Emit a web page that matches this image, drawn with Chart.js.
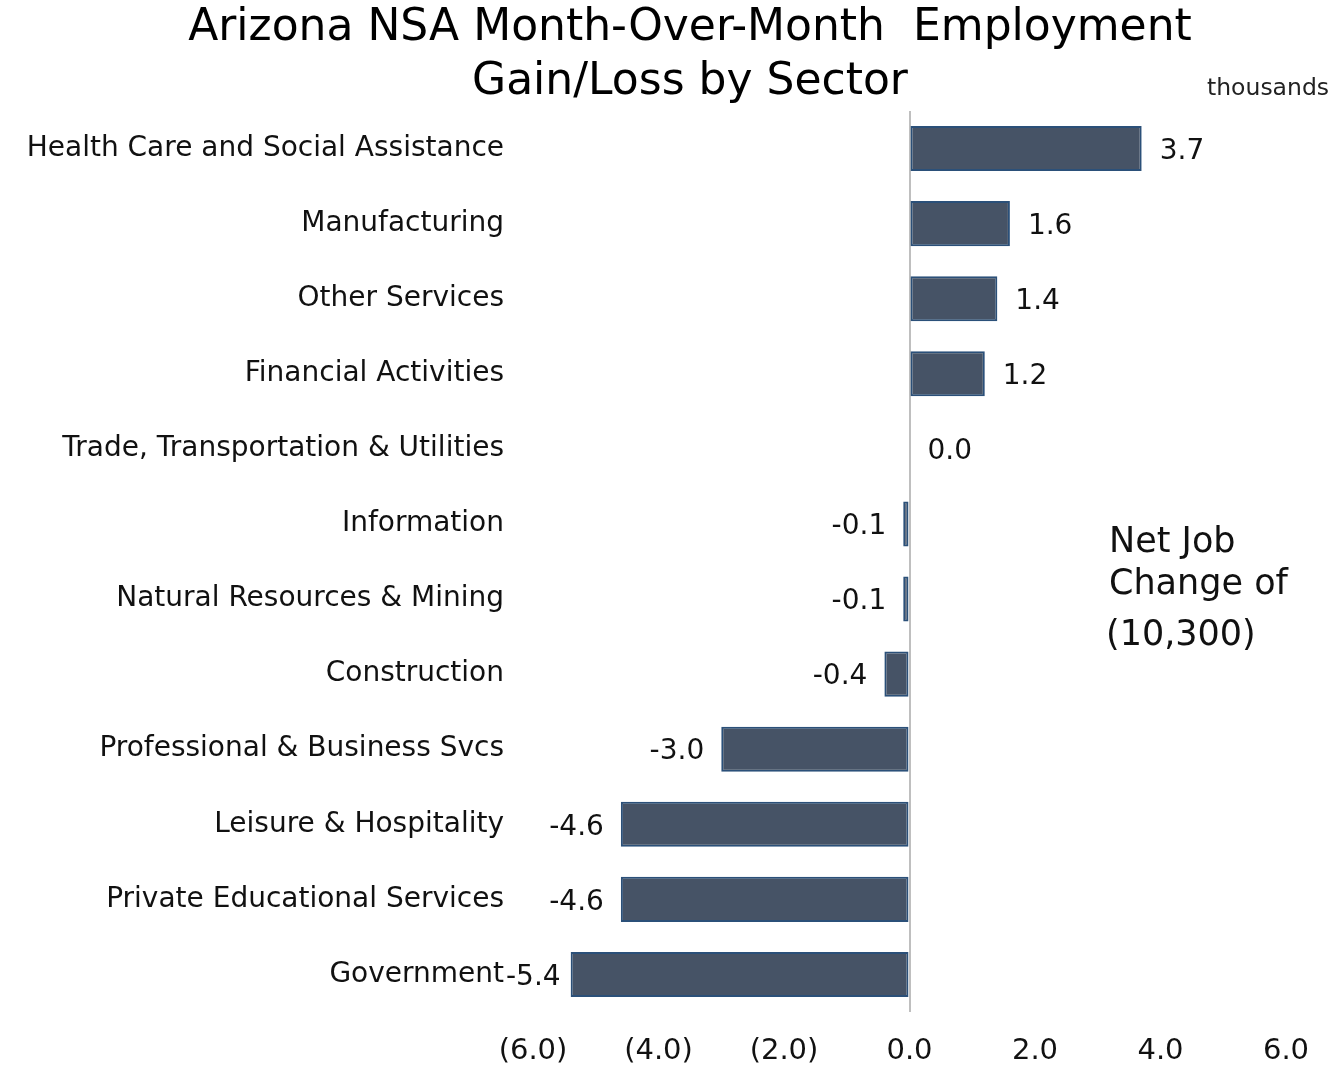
<!DOCTYPE html>
<html><head><meta charset="utf-8">
<script src="https://cdn.jsdelivr.net/npm/chart.js@4/dist/chart.umd.min.js"></script>
<style>html,body{margin:0;padding:0;background:#fff}#wrap{width:1336px;height:1067px;position:relative}</style>
</head><body><div id="wrap"><canvas id="c" width="1336" height="1067"></canvas></div>
<script>
const categories = ["Health Care and Social Assistance","Manufacturing","Other Services","Financial Activities","Trade, Transportation & Utilities","Information","Natural Resources & Mining","Construction","Professional & Business Svcs","Leisure & Hospitality","Private Educational Services","Government"];
const values = [3.7, 1.6, 1.4, 1.2, 0.0, -0.1, -0.1, -0.4, -3.0, -4.6, -4.6, -5.4];
const titleLines = ["Arizona NSA Month-Over-Month  Employment", "Gain/Loss by Sector"];
const unitLabel = "thousands";
const noteLines = ["Net Job", "Change of", "(10,300)"];
const xMin = -6, xMax = 6, xStep = 2;

const FONT = "'DejaVu Sans', Verdana, sans-serif";

const overlay = {
  id: 'overlay',
  afterDatasetsDraw(chart) {
    const ctx = chart.ctx;
    const meta = chart.getDatasetMeta(0);
    const minLeft = chart.chartArea.left - 27;
    ctx.save();
    ctx.font = "28px " + FONT;
    ctx.fillStyle = "#111";
    ctx.textBaseline = "middle";
    meta.data.forEach((bar, i) => {
      const v = values[i];
      const txt = v.toFixed(1);
      if (v >= 0) { ctx.textAlign = "left"; ctx.fillText(txt, bar.x + 18, bar.y + 3); }
      else {
        const w = ctx.measureText(txt).width;
        let right = bar.x - 17;
        if (right - w < minLeft) right = minLeft + w;
        ctx.textAlign = "right"; ctx.fillText(txt, right, bar.y + 3);
      }
    });
    // title
    ctx.font = "44px " + FONT;
    ctx.textAlign = "center";
    ctx.fillStyle = "#000";
    ctx.fillText(titleLines[0], 690, 29);
    ctx.fillText(titleLines[1], 690, 83);
    ctx.font = "23.5px " + FONT;
    ctx.textAlign = "left";
    ctx.fillStyle = "#222";
    ctx.fillText(unitLabel, 1207, 89);
    ctx.font = "35px " + FONT;
    ctx.fillStyle = "#111";
    ctx.fillText(noteLines[0], 1109, 543);
    ctx.fillText(noteLines[1], 1109, 585);
    ctx.fillText(noteLines[2], 1106, 636);
    ctx.restore();
  }
};

new Chart(document.getElementById('c'), {
  type: 'bar',
  data: { labels: categories, datasets: [{ data: values, backgroundColor: '#465366', borderColor: '#2B5079', borderWidth: 2, borderSkipped: false, barPercentage: 0.6, categoryPercentage: 1.0 }] },
  options: {
    indexAxis: 'y', responsive: false, animation: false, devicePixelRatio: 1,
    layout: { padding: { top: 111, right: 50, bottom: 0, left: 0 } },
    plugins: { legend: { display: false }, tooltip: { enabled: false } },
    scales: {
      x: {
        min: xMin, max: xMax,
        afterFit: s => { s.height = 55; },
        ticks: { stepSize: xStep, padding: 22, color: '#111', font: { size: 29, family: FONT },
          callback: v => v < 0 ? '(' + Math.abs(v).toFixed(1) + ')' : v.toFixed(1) },
        grid: { drawTicks: false, lineWidth: 2, color: ctx => ctx.tick && ctx.tick.value === 0 ? '#BFBFBF' : 'rgba(0,0,0,0)' },
        border: { display: false }
      },
      y: {
        afterFit: s => { s.width = 533; },
        ticks: { padding: 29, color: '#111', font: { size: 28, family: FONT } },
        grid: { display: false, drawTicks: false },
        border: { display: false }
      }
    }
  },
  plugins: [overlay]
});
</script></body></html>
